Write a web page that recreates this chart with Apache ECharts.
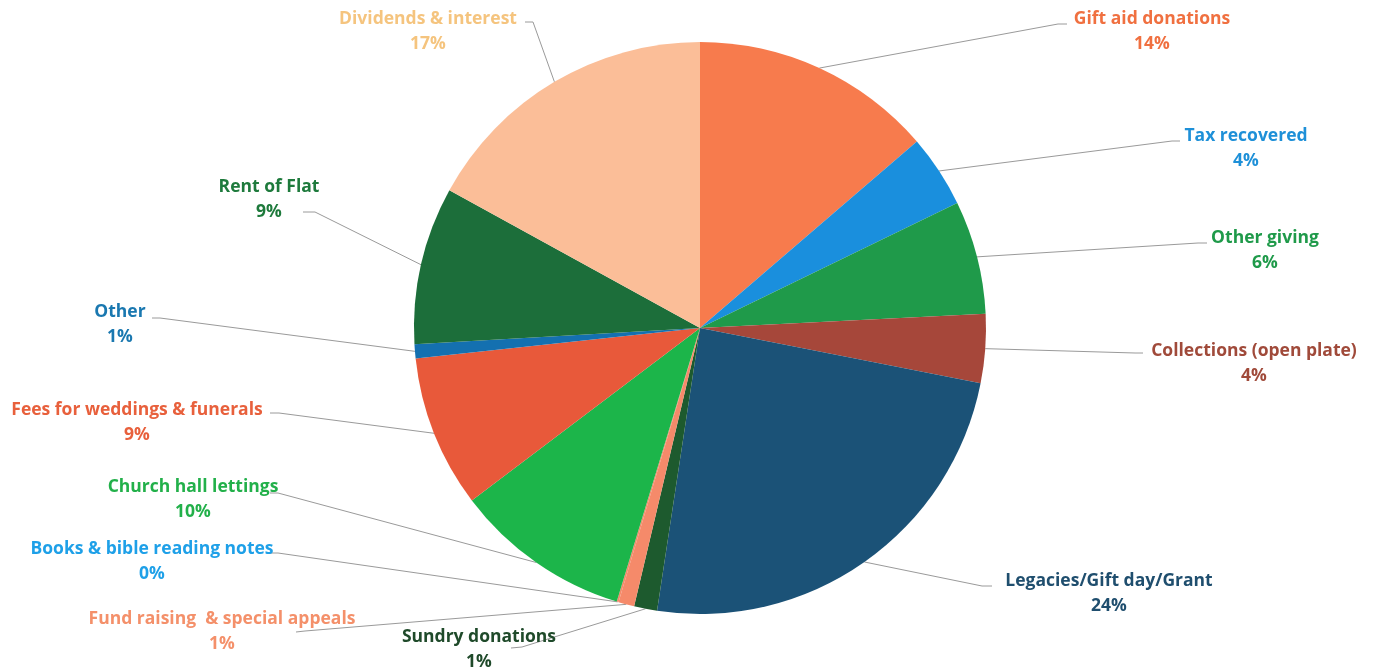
<!DOCTYPE html>
<html>
<head>
<meta charset="utf-8">
<script src="https://cdn.jsdelivr.net/npm/echarts@6/dist/echarts.min.js"></script>
<style>
html,body{margin:0;padding:0;background:#fff;}
#chart{width:1376px;height:672px;}
</style>
</head>
<body>
<div id="chart"></div>
<script>
// ---- data ----
const categories = [
  'Gift aid donations',
  'Tax recovered',
  'Other giving',
  'Collections (open plate)',
  'Legacies/Gift day/Grant',
  'Sundry donations',
  'Fund raising  & special appeals',
  'Books & bible reading notes',
  'Church hall lettings',
  'Fees for weddings & funerals',
  'Other',
  'Rent of Flat',
  'Dividends & interest'
];
const shares = [13.7, 4.1, 6.4, 3.9, 24.3, 1.3, 0.9, 0.1, 10.0, 8.6, 0.8, 8.9, 17.0];

// ---- styles ----
const sliceColors = ['#F77B4D','#1A8FDD','#1F9A4A','#A6473A','#1B5277','#1D5A2E','#F58A6A','#F58A6A','#1CB54A','#E8593A','#1470B0','#1C6E3A','#FBBE98'];
const labelColors = ['#F07040','#1E90D8','#1F9A4A','#A04A3A','#1F4E6E','#1F4A2A','#F4906A','#1EA0E8','#22B04A','#E8603C','#1A78B0','#1E7A3C','#F5C47E'];
// label layout: [centerX, centerY, elbowX, elbowY, endX, endY]
const labelLayoutPos = [
  [1152, 32, 1058, 24, 1067, 24],
  [1246, 149, 1172, 141, 1180, 141],
  [1265, 251, 1198, 243, 1207, 243],
  [1254, 364, 1135, 353, 1143, 353],
  [1109, 594, 982, 586, 992, 586],
  [479, 650, 522, 647, 511, 648],
  [222, 632, 305, 631, 296, 632],
  [152, 562, 278, 553, 269, 553],
  [193, 500, 278, 493, 270, 493],
  [137, 423, 279, 413, 270, 413],
  [120, 325, 160, 318, 152, 318],
  [269, 200, 315, 212, 303, 212],
  [428, 32, 533, 22, 525, 22]
];

const chart = echarts.init(document.getElementById('chart'));
chart.setOption({
  backgroundColor: '#ffffff',
  animation: false,
  series: [{
    type: 'pie',
    center: [700, 328],
    radius: 286,
    startAngle: 90,
    clockwise: true,
    avoidLabelOverlap: false,
    data: categories.map((n, i) => ({
      name: n,
      value: shares[i],
      itemStyle: { color: sliceColors[i] },
      label: { color: labelColors[i] }
    })),
    label: {
      show: true,
      position: 'outside',
      fontFamily: 'Open Sans',
      fontWeight: 'bold',
      fontSize: 17.5,
      lineHeight: 25,
      formatter: p => p.name + '\n' + Math.round(p.percent) + '%'
    },
    labelLine: {
      show: true,
      lineStyle: { color: '#9a9a9a', width: 1 }
    },
    labelLayout: function (params) {
      const L = labelLayoutPos[params.dataIndex];
      const start = params.labelLinePoints ? params.labelLinePoints[0] : [L[2], L[3]];
      return {
        x: L[0],
        y: L[1],
        align: 'center',
        verticalAlign: 'middle',
        labelLinePoints: [start, [L[2], L[3]], [L[4], L[5]]]
      };
    }
  }]
});
</script>
</body>
</html>
